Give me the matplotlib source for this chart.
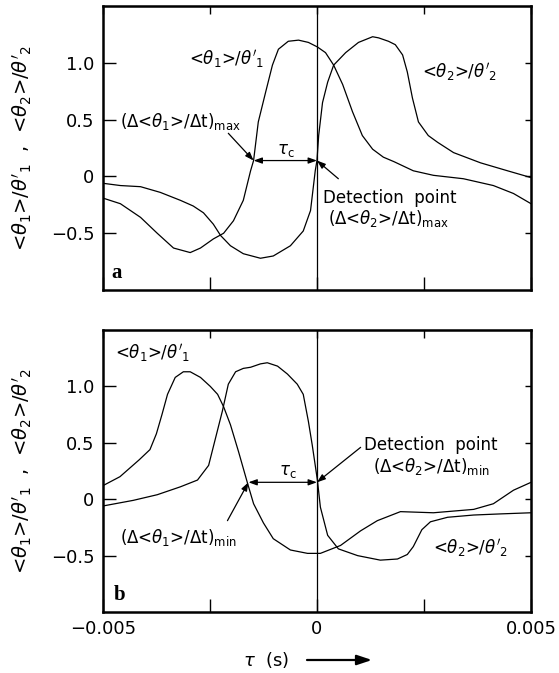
import matplotlib.pyplot as plt
import matplotlib.patches as mpatches
import numpy as np

plt.rcParams['font.family'] = 'DejaVu Sans'
plt.rcParams['mathtext.fontset'] = 'dejavusans'

# panel a, tau in ms
t_a1 = [-5.0, -4.59, -4.12, -3.73, -3.35, -2.96, -2.72, -2.42, -2.18, -1.95, -1.72, -1.55,
        -1.48, -1.37, -1.2, -1.04, -0.9, -0.67, -0.43, -0.2, 0.01, 0.2, 0.39, 0.6,
        0.83, 1.06, 1.3, 1.55, 1.8, 2.25, 2.72, 3.42, 4.12, 4.59, 5.0]
v_a1 = [-0.19, -0.24, -0.36, -0.50, -0.63, -0.67, -0.63, -0.55, -0.50, -0.39, -0.21, 0.05,
        0.14, 0.48, 0.74, 0.98, 1.12, 1.19, 1.20, 1.18, 1.14, 1.09, 0.98, 0.81,
        0.57, 0.36, 0.24, 0.17, 0.13, 0.05, 0.01, -0.02, -0.08, -0.15, -0.24]
t_a2 = [-5.0, -4.59, -4.12, -3.66, -3.19, -2.89, -2.65, -2.42, -2.25, -2.02, -1.72, -1.32,
        -1.02, -0.62, -0.32, -0.15, -0.04, 0.0, 0.04, 0.13, 0.25, 0.39, 0.67, 0.97,
        1.3, 1.44, 1.67, 1.83, 2.0, 2.11, 2.23, 2.37, 2.6, 2.82, 3.19, 3.82, 4.45, 5.0]
v_a2 = [-0.06, -0.08, -0.09, -0.14, -0.21, -0.26, -0.32, -0.42, -0.52, -0.61, -0.68, -0.72,
        -0.70, -0.61, -0.48, -0.30, 0.05, 0.14, 0.36, 0.65, 0.83, 0.98, 1.09, 1.18,
        1.23, 1.22, 1.19, 1.16, 1.07, 0.92, 0.69, 0.48, 0.36, 0.30, 0.21, 0.12, 0.05, -0.01]

# panel b
t_b1 = [-5.0, -4.6, -4.15, -3.9, -3.75, -3.62, -3.49, -3.31, -3.12, -2.96, -2.72, -2.49,
        -2.32, -2.18, -2.02, -1.83, -1.74, -1.62, -1.48, -1.25, -1.02, -0.62, -0.22, 0.08,
        0.55, 1.02, 1.41, 1.95, 2.72, 3.66, 4.12, 4.59, 5.0]
v_b1 = [0.12, 0.20, 0.35, 0.44, 0.58, 0.75, 0.93, 1.08, 1.13, 1.13, 1.08, 1.00,
        0.93, 0.82, 0.66, 0.42, 0.30, 0.14, -0.04, -0.21, -0.35, -0.45, -0.48, -0.48,
        -0.41, -0.28, -0.19, -0.11, -0.12, -0.09, -0.04, 0.08, 0.15]
t_b2 = [-5.0, -4.29, -3.73, -3.19, -2.79, -2.53, -2.37, -2.21, -2.07, -1.90, -1.72, -1.55,
        -1.32, -1.16, -0.92, -0.69, -0.46, -0.32, -0.20, -0.11, -0.04, 0.01, 0.08, 0.25,
        0.50, 0.95, 1.48, 1.88, 2.11, 2.25, 2.45, 2.65, 3.05, 3.66, 4.29, 5.0]
v_b2 = [-0.06, -0.01, 0.04, 0.11, 0.17, 0.30, 0.54, 0.78, 1.02, 1.13, 1.16, 1.17,
        1.20, 1.21, 1.18, 1.11, 1.02, 0.93, 0.69, 0.48, 0.30, 0.17, -0.07, -0.32,
        -0.44, -0.50, -0.54, -0.53, -0.49, -0.42, -0.27, -0.20, -0.16, -0.14, -0.13, -0.12]

yticks = [-0.5, 0, 0.5, 1.0]
ytick_labels = ['\u22120.5', '0', '0.5', '1.0']
xticks = [-0.005, -0.0025, 0, 0.0025, 0.005]
xtick_labels = ['\u22120.005', '', '0', '', '0.005']

ms = 1e-3
ylab = "<$\\theta_1$>/$\\theta'_1$  ,  <$\\theta_2$>/$\\theta'_2$"
fs = 13
afs = 12

fig = plt.figure(figsize=(5.59, 6.73), dpi=100)
ax_a = fig.add_axes([0.184, 0.569, 0.766, 0.422])
ax_b = fig.add_axes([0.184, 0.0906, 0.766, 0.419])

for ax, c1, c2 in [(ax_a, (t_a1, v_a1), (t_a2, v_a2)), (ax_b, (t_b1, v_b1), (t_b2, v_b2))]:
    ax.plot(np.array(c1[0]) * ms, c1[1], color='black', lw=0.9, solid_joinstyle='round')
    ax.plot(np.array(c2[0]) * ms, c2[1], color='black', lw=0.9, solid_joinstyle='round')
    ax.axvline(0, color='black', lw=0.9)
    ax.set_xlim(-0.005, 0.005)
    ax.set_ylim(-1.0, 1.5)
    ax.set_yticks(yticks)
    ax.set_yticklabels(ytick_labels)
    ax.set_xticks(xticks)
    ax.tick_params(direction='in', length=9.5, width=1.0, labelsize=fs, pad=6)
    for s in ax.spines.values():
        s.set_linewidth(1.8)
    sx = ax.secondary_xaxis('top')
    sx.set_xticks(xticks)
    sx.set_xticklabels([])
    sx.tick_params(direction='in', length=6, width=1.0)
    sy = ax.secondary_yaxis('right')
    sy.set_yticks(yticks)
    sy.set_yticklabels([])
    sy.tick_params(direction='in', length=4.5, width=1.0)
    ax.set_ylabel(ylab, fontsize=14)
    ax.yaxis.set_label_coords(-0.16, 0.5)

ax_a.set_xticklabels([])
ax_b.set_xticklabels(xtick_labels)

arrow_kw = dict(arrowstyle='-|>,head_length=0.5,head_width=0.18', color='black', lw=0.9,
                shrinkA=0, shrinkB=0)
dbl_kw = dict(arrowstyle='<|-|>,head_length=0.5,head_width=0.18', color='black', lw=0.9,
              shrinkA=0, shrinkB=0)

# panel a annotations
ax_a.text(-2.11 * ms, 1.03, "<$\\theta_1$>/$\\theta'_1$", fontsize=afs, ha='center', va='center')
ax_a.text(3.33 * ms, 0.92, "<$\\theta_2$>/$\\theta'_2$", fontsize=afs, ha='center', va='center')
ax_a.text(-4.6 * ms, 0.48, "(Δ<$\\theta_1$>/Δt)$_{\\rm max}$", fontsize=afs, ha='left', va='center')
ax_a.annotate('', xy=(-1.48 * ms, 0.14), xytext=(-2.07 * ms, 0.38), arrowprops=arrow_kw)
ax_a.annotate('', xy=(0, 0.14), xytext=(-1.48 * ms, 0.14), arrowprops=dbl_kw)
ax_a.text(-0.73 * ms, 0.155, "$\\tau_{\\rm c}$", fontsize=afs, ha='center', va='bottom')
ax_a.annotate('', xy=(0, 0.14), xytext=(0.5 * ms, -0.02), arrowprops=arrow_kw)
ax_a.text(0.15 * ms, -0.19, "Detection  point", fontsize=afs, ha='left', va='center')
ax_a.text(0.25 * ms, -0.37, "(Δ<$\\theta_2$>/Δt)$_{\\rm max}$", fontsize=afs, ha='left', va='center')
ax_a.text(0.02, 0.025, 'a', transform=ax_a.transAxes, fontsize=15, fontweight='bold',
          family='Liberation Serif', ha='left', va='bottom')

# panel b annotations
ax_b.text(-3.84 * ms, 1.30, "<$\\theta_1$>/$\\theta'_1$", fontsize=afs, ha='center', va='center')
ax_b.text(3.59 * ms, -0.43, "<$\\theta_2$>/$\\theta'_2$", fontsize=afs, ha='center', va='center')
ax_b.text(-4.6 * ms, -0.34, "(Δ<$\\theta_1$>/Δt)$_{\\rm min}$", fontsize=afs, ha='left', va='center')
ax_b.annotate('', xy=(-1.6 * ms, 0.15), xytext=(-2.09 * ms, -0.19), arrowprops=arrow_kw)
ax_b.annotate('', xy=(0, 0.15), xytext=(-1.6 * ms, 0.15), arrowprops=dbl_kw)
ax_b.text(-0.69 * ms, 0.17, "$\\tau_{\\rm c}$", fontsize=afs, ha='center', va='bottom')
ax_b.annotate('', xy=(0, 0.15), xytext=(1.02 * ms, 0.46), arrowprops=arrow_kw)
ax_b.text(1.09 * ms, 0.48, "Detection  point", fontsize=afs, ha='left', va='center')
ax_b.text(1.3 * ms, 0.29, "(Δ<$\\theta_2$>/Δt)$_{\\rm min}$", fontsize=afs, ha='left', va='center')
ax_b.text(0.025, 0.025, 'b', transform=ax_b.transAxes, fontsize=15, fontweight='bold',
          family='Liberation Serif', ha='left', va='bottom')

# x label with arrow
fig.text(243 / 559, 1 - 660 / 673, "$\\tau$  (s)", fontsize=fs, ha='left', va='center')
fig.add_artist(mpatches.FancyArrowPatch(
    (307 / 559, 1 - 660 / 673), (372 / 559, 1 - 660 / 673), transform=fig.transFigure,
    arrowstyle='-|>,head_length=0.9,head_width=0.3', mutation_scale=10,
    color='black', lw=1.6, shrinkA=0, shrinkB=0))

fig.savefig('out.png', dpi=100)
